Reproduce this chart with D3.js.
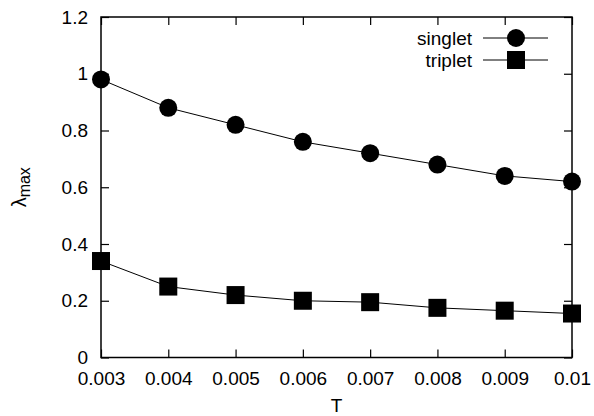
<!DOCTYPE html>
<html>
<head>
<meta charset="utf-8">
<script src="https://cdn.jsdelivr.net/npm/d3@7"></script>
<style>
html,body{margin:0;padding:0;background:#fff;}
svg{display:block;}
text{font-family:"Liberation Sans",Arial,Helvetica,sans-serif;fill:#000;}
</style>
</head>
<body>
<svg id="chart" width="594" height="416"></svg>
<script>
const temps = [0.003, 0.004, 0.005, 0.006, 0.007, 0.008, 0.009, 0.01];
const singlet = [0.98, 0.88, 0.82, 0.76, 0.72, 0.68, 0.64, 0.62];
const triplet = [0.34, 0.25, 0.22, 0.20, 0.195, 0.175, 0.165, 0.155];
const xTicks = [0.003, 0.004, 0.005, 0.006, 0.007, 0.008, 0.009, 0.01];
const xTickLabels = ["0.003", "0.004", "0.005", "0.006", "0.007", "0.008", "0.009", "0.01"];
const yTicks = [0, 0.2, 0.4, 0.6, 0.8, 1, 1.2];
const yTickLabels = ["0", "0.2", "0.4", "0.6", "0.8", "1", "1.2"];
const seriesNames = ["singlet", "triplet"];

const svg = d3.select("#chart");
const L = 101, R = 572, T = 17, B = 357.5;
const x = d3.scaleLinear().domain([0.003, 0.01]).range([L, R]);
const y = d3.scaleLinear().domain([0, 1.2]).range([B, T]);
const fs = 19, tickLen = 8;

const xAxis = d3.axisBottom(x).tickValues(xTicks).tickSizeInner(-tickLen).tickSizeOuter(0)
  .tickPadding(14).tickFormat((d,i)=>xTickLabels[i]);
const gx = svg.append("g").attr("transform",`translate(0,${B})`).call(xAxis);
const yAxis = d3.axisLeft(y).tickValues(yTicks).tickSizeInner(-tickLen).tickSizeOuter(0)
  .tickPadding(13).tickFormat((d,i)=>yTickLabels[i]);
const gy = svg.append("g").attr("transform",`translate(${L},0)`).call(yAxis);
const gxt = svg.append("g").attr("transform",`translate(0,${T})`)
  .call(d3.axisTop(x).tickValues(xTicks).tickSizeInner(-tickLen).tickSizeOuter(0).tickFormat(""));
const gyr = svg.append("g").attr("transform",`translate(${R},0)`)
  .call(d3.axisRight(y).tickValues(yTicks).tickSizeInner(-tickLen).tickSizeOuter(0).tickFormat(""));
[gx,gy,gxt,gyr].forEach(g=>{
  g.select(".domain").remove();
  g.selectAll("line").attr("stroke","#000").attr("stroke-width",1.2);
  g.selectAll("text").attr("font-size",fs).attr("font-family","Liberation Sans, Arial, sans-serif").attr("fill","#000");
});
gx.selectAll("text").attr("dy","0.71em");

svg.append("rect").attr("x",L).attr("y",T).attr("width",R-L).attr("height",B-T)
  .attr("fill","none").attr("stroke","#000").attr("stroke-width",1.5);

svg.append("text").attr("x",(L+R)/2).attr("y",412).attr("text-anchor","middle")
  .attr("font-size",fs).text("T");
const yl = svg.append("text").attr("transform",`translate(26,${(T+B)/2}) rotate(-90)`)
  .attr("text-anchor","middle").attr("font-size",20);
yl.append("tspan").text("λ");
yl.append("tspan").attr("font-size",16).attr("dy",4).text("max");

const line = d3.line().x((d,i)=>x(temps[i])).y(d=>y(d));
const data = [singlet, triplet];
data.forEach((vals, k)=>{
  svg.append("path").datum(vals).attr("d",line).attr("fill","none")
    .attr("stroke","#000").attr("stroke-width",1);
  const g = svg.append("g");
  if (k===0) {
    g.selectAll("circle").data(vals).join("circle")
      .attr("cx",(d,i)=>x(temps[i])).attr("cy",d=>y(d)).attr("r",9).attr("fill","#000");
  } else {
    g.selectAll("rect").data(vals).join("rect")
      .attr("x",(d,i)=>x(temps[i])-9).attr("y",d=>y(d)-9)
      .attr("width",18).attr("height",18).attr("fill","#000");
  }
});

const legY = [38, 60];
seriesNames.forEach((name,k)=>{
  const yy = legY[k];
  svg.append("text").attr("x",472).attr("y",yy).attr("dy","0.35em")
    .attr("text-anchor","end").attr("font-size",fs).text(name);
  svg.append("line").attr("x1",483).attr("x2",548).attr("y1",yy).attr("y2",yy)
    .attr("stroke","#000").attr("stroke-width",1);
  if (k===0) svg.append("circle").attr("cx",516).attr("cy",yy).attr("r",9).attr("fill","#000");
  else svg.append("rect").attr("x",507).attr("y",yy-9).attr("width",18).attr("height",18).attr("fill","#000");
});
</script>
</body>
</html>
